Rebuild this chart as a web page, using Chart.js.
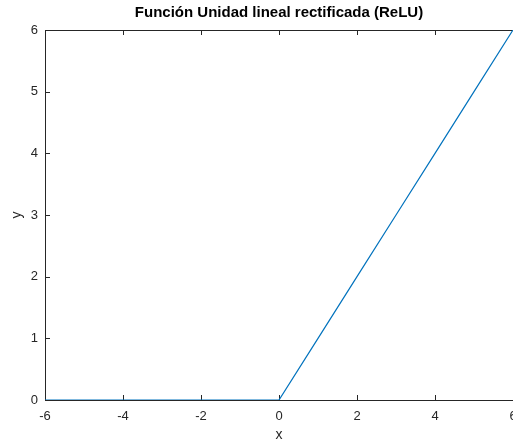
<!DOCTYPE html>
<html>
<head>
<meta charset="utf-8">
<script src="https://cdn.jsdelivr.net/npm/chart.js@4"></script>
<style>
  html, body { margin: 0; padding: 0; background: #fff; overflow: hidden; }
  #wrap { width: 513px; height: 444px; }
</style>
</head>
<body>
<div id="wrap"><canvas id="chart-relu" width="513" height="444"></canvas></div>
<script>
// datos
const xValues = [-6, -5, -4, -3, -2, -1, 0, 1, 2, 3, 4, 5, 6];
const yValues = [0, 0, 0, 0, 0, 0, 0, 1, 2, 3, 4, 5, 6];
const xTicks = [-6, -4, -2, 0, 2, 4, 6];
const yTicks = [0, 1, 2, 3, 4, 5, 6];
const titulo = "Función Unidad lineal rectificada (ReLU)";

const ejeColor = "#262626";
const fuente = "Arial, 'Liberation Sans', Helvetica, sans-serif";

// marco + ticks hacia dentro, debajo de la línea
const marcoMatlab = {
  id: "marcoMatlab",
  beforeDatasetsDraw(chart) {
    const { ctx, chartArea: a, scales } = chart;
    ctx.save();
    ctx.strokeStyle = ejeColor;
    ctx.lineWidth = 1;
    ctx.beginPath();
    ctx.moveTo(a.left + 0.5, a.bottom + 0.5);
    ctx.lineTo(a.left + 0.5, a.top + 0.5);
    ctx.lineTo(a.right, a.top + 0.5);
    ctx.moveTo(a.left, a.bottom + 0.5);
    ctx.lineTo(a.right, a.bottom + 0.5);
    ctx.stroke();

    ctx.beginPath();
    xTicks.forEach((v) => {
      const px = Math.round(scales.x.getPixelForValue(v)) + 0.5;
      ctx.moveTo(px, a.bottom);
      ctx.lineTo(px, a.bottom - 5);
      ctx.moveTo(px, a.top);
      ctx.lineTo(px, a.top + 5);
    });
    yTicks.forEach((v) => {
      const py = Math.round(scales.y.getPixelForValue(v)) + 0.5;
      ctx.moveTo(a.left, py);
      ctx.lineTo(a.left + 5, py);
    });
    ctx.stroke();
    ctx.restore();
  },
  // título centrado sobre el área del gráfico
  afterDraw(chart) {
    const { ctx, chartArea: a } = chart;
    ctx.save();
    ctx.fillStyle = "#000";
    ctx.font = "bold 15px " + fuente;
    ctx.textAlign = "center";
    ctx.textBaseline = "middle";
    ctx.fillText(titulo, (a.left + a.right) / 2, 13);
    ctx.restore();
  },
};

new Chart(document.getElementById("chart-relu"), {
  type: "line",
  data: {
    datasets: [
      {
        data: xValues.map((x, i) => ({ x, y: yValues[i] })),
        borderColor: "#0072BD",
        borderWidth: 1.2,
        pointRadius: 0,
        tension: 0,
        fill: false,
      },
    ],
  },
  options: {
    responsive: false,
    animation: false,
    layout: { padding: { top: 30, right: 0, left: 0, bottom: 0 } },
    plugins: {
      legend: { display: false },
      tooltip: { enabled: false },
      title: { display: false },
    },
    scales: {
      x: {
        type: "linear",
        min: -6,
        max: 6,
        afterFit: (s) => {
          s.height = 44;
          s.paddingRight = 0;
          s.paddingLeft = 0;
        },
        afterBuildTicks: (s) => { s.ticks = xTicks.map((v) => ({ value: v })); },
        grid: { display: false, drawTicks: false },
        border: { display: false },
        ticks: { color: ejeColor, padding: 9, font: { size: 13, family: fuente } },
        title: {
          display: true,
          text: "x",
          color: ejeColor,
          padding: { top: 0, bottom: 0 },
          font: { size: 14, family: fuente },
        },
      },
      y: {
        type: "linear",
        min: 0,
        max: 6,
        afterFit: (s) => {
          s.width = 45;
          s.paddingTop = 0;
          s.paddingBottom = 0;
        },
        afterBuildTicks: (s) => { s.ticks = yTicks.map((v) => ({ value: v })); },
        grid: { display: false, drawTicks: false },
        border: { display: false },
        ticks: { color: ejeColor, padding: 7, font: { size: 13, family: fuente } },
        title: {
          display: true,
          text: "y",
          color: ejeColor,
          padding: { top: 9, bottom: 0 },
          font: { size: 14, family: fuente },
        },
      },
    },
  },
  plugins: [marcoMatlab],
});
</script>
</body>
</html>
